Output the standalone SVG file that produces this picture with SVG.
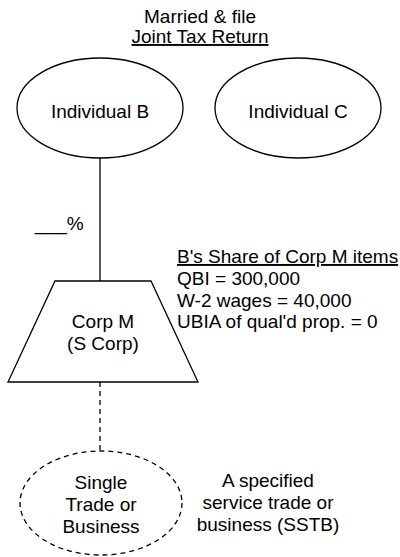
<svg xmlns="http://www.w3.org/2000/svg" width="400" height="557" viewBox="0 0 400 557">
<style>
text{font-family:"Liberation Sans",Arial,sans-serif;font-size:19px;fill:#000}
.c{text-anchor:middle}
.s{fill:#fff;stroke:#000;stroke-width:1.3}
.d{stroke-dasharray:5,4}
</style>
<rect width="400" height="557" fill="#fff"/>
<g id="title">
<text class="c" x="200" y="23">Married &amp; file</text>
<text class="c" x="200" y="43" text-decoration="underline">Joint Tax Return</text>
</g>
<g id="connectors" fill="none" stroke="#000" stroke-width="1.3">
<line x1="100" y1="158" x2="100" y2="281"/>
<line class="d" x1="100" y1="382" x2="100" y2="451"/>
</g>
<g id="individualB">
<ellipse class="s" cx="100" cy="108" rx="83" ry="50"/>
<text class="c" x="100" y="118">Individual B</text>
</g>
<g id="individualC">
<ellipse class="s" cx="298" cy="108" rx="83" ry="50"/>
<text class="c" x="298" y="118">Individual C</text>
</g>
<g id="pct">
<text x="35" y="230">___%</text>
</g>
<g id="corpM">
<polygon class="s" points="55,281 151,281 198,382 8,382"/>
<text class="c" x="103" y="328">Corp M</text>
<text class="c" x="103" y="350">(S Corp)</text>
</g>
<g id="shareItems">
<text x="177" y="263" text-decoration="underline">B's Share of Corp M items</text>
<text x="177" y="285">QBI = 300,000</text>
<text x="177" y="307">W-2 wages = 40,000</text>
<text x="177" y="328">UBIA of qual'd prop. = 0</text>
</g>
<g id="business">
<ellipse class="s d" cx="101" cy="503" rx="81" ry="52"/>
<text class="c" x="101" y="489">Single</text>
<text class="c" x="101" y="511">Trade or</text>
<text class="c" x="101" y="533">Business</text>
</g>
<g id="sstb">
<text class="c" x="268" y="487">A specified</text>
<text class="c" x="268" y="509">service trade or</text>
<text class="c" x="268" y="531">business (SSTB)</text>
</g>
</svg>
